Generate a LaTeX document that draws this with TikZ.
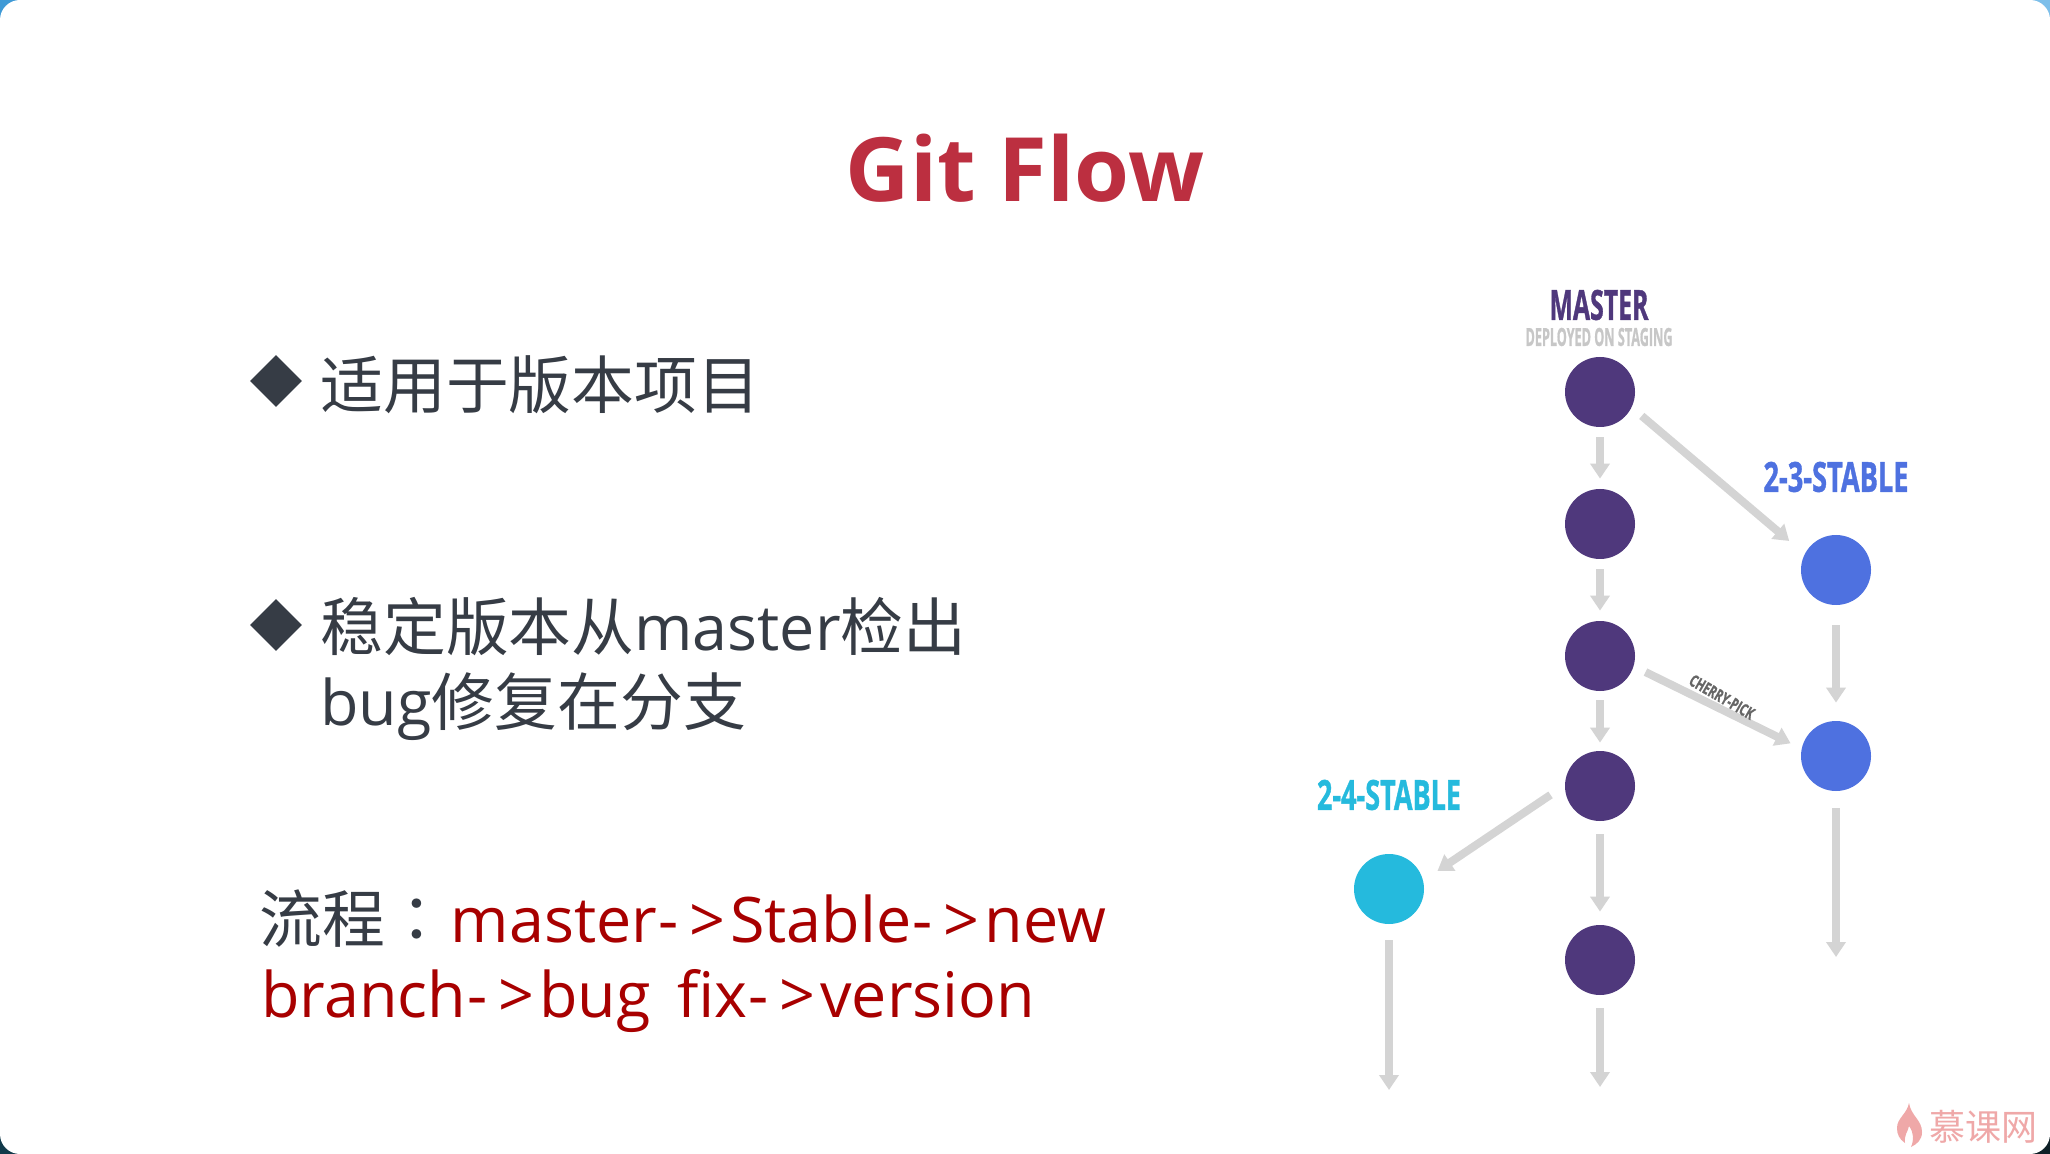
\documentclass[tikz,border=0pt]{standalone}
\usepackage{fontspec}
\usepackage{graphicx}
\setmainfont{Open Sans}
\newfontfamily\cjk{Noto Sans CJK SC}
\newfontfamily\cjktc{Noto Sans CJK TC}
\usetikzlibrary{arrows.meta,shapes.geometric}
\definecolor{masterpurple}{HTML}{4F387C}
\definecolor{stableblue}{HTML}{4E71E0}
\definecolor{stablecyan}{HTML}{25BADD}
\definecolor{flowgrey}{HTML}{D4D4D4}
\definecolor{slate}{HTML}{363C45}
\definecolor{titlered}{HTML}{BC2F40}
\definecolor{flowred}{HTML}{A80000}
\definecolor{markpink}{HTML}{EFA8A8}
\definecolor{cornerblue}{HTML}{3F9AD6}
\definecolor{cornerlight}{HTML}{7DBFEA}
\definecolor{cornerteal}{HTML}{123A4A}
\definecolor{cornerdark}{HTML}{0F2027}
% text stretched to an exact width and height, given in pt
\newcommand{\sizedlabel}[3]{\resizebox{#1pt}{#2pt}{\bfseries\addfontfeature{FakeBold=1.2}#3}}
% the arrow between process steps, with its looser spacing
\newcommand{\steparrow}{\kern0.5pt-\kern5.5pt>\kern2.5pt}
\tikzset{
  x=0.5pt,y=-0.5pt,
  commit/.style={circle,minimum size=35pt,inner sep=0pt,fill=#1},
  flow/.style={draw=flowgrey,line width=4pt,-{Triangle[length=7.5pt,width=9.5pt]}},
  bullet/.style={diamond,aspect=1,minimum size=26pt,inner sep=0pt,fill=slate},
  body/.style={anchor=base west,inner sep=0pt,text=slate,font=\fontsize{31.4pt}{38pt}\selectfont},
  tag/.style={inner sep=0pt}
}
\begin{document}
\begin{tikzpicture}
\useasboundingbox (0,0) rectangle (2050,1154);
% window backdrop and rounded slide
\fill[cornerblue] (0,0) rectangle (1025,577);
\fill[cornerlight] (1025,0) rectangle (2050,577);
\fill[cornerteal] (0,577) rectangle (1025,1154);
\fill[cornerdark] (1025,577) rectangle (2050,1154);
\fill[white,rounded corners=10pt] (0,0) rectangle (2050,1154);

% heading and bullet points
\node[anchor=base,inner sep=0pt,text=titlered,font=\fontsize{44.4pt}{54pt}\selectfont\bfseries] (title) at (1025,202) {Git Flow};
\node[bullet] (b1) at (276,381) {};
\node[bullet] (b2) at (276,625) {};
\node[body] (t1) at (320,409) {\cjk 适用于版本项目};
\node[body] (t2) at (320,650) {\cjk 稳定版本从{\rmfamily master}检出};
\node[body] (t3) at (320,725) {bug{\cjk 修复在分支}};
\node[body] (t4) at (259,942) {{\cjk 流程}{\cjktc ：}\kern1.5pt\textcolor{flowred}{master\steparrow Stable\steparrow new}};
\node[body,text=flowred] (t5) at (261,1017) {branch\steparrow bug\kern5pt\ fix\steparrow version};

% commits
\node[commit=masterpurple] (m1) at (1600,392) {};
\node[commit=masterpurple] (m2) at (1600,524) {};
\node[commit=masterpurple] (m3) at (1600,656) {};
\node[commit=masterpurple] (m4) at (1600,786) {};
\node[commit=masterpurple] (m5) at (1600,960) {};
\node[commit=stableblue] (s1) at (1836,570) {};
\node[commit=stableblue] (s2) at (1836,756) {};
\node[commit=stablecyan] (c1) at (1389,889) {};

% open ends of the branches
\coordinate (mEnd) at (1600,1087);
\coordinate (sEnd) at (1836,957);
\coordinate (cEnd) at (1389,1090);

% history arrows
\draw[flow,shorten <=5pt,shorten >=5pt] (m1) -- (m2);
\draw[flow,shorten <=5pt,shorten >=5pt] (m2) -- (m3);
\draw[flow,shorten <=4.5pt,shorten >=4pt] (m3) -- (m4);
\draw[flow,shorten <=6.5pt,shorten >=6.5pt] (m4) -- (m5);
\draw[flow,shorten <=6.5pt] (m5) -- (mEnd);
\draw[flow,shorten <=10pt,shorten >=9pt] (s1) -- (s2);
\draw[flow,shorten <=8.5pt] (s2) -- (sEnd);
\draw[flow,shorten <=8pt] (c1) -- (cEnd);

% branch and cherry-pick arrows
\draw[flow,shorten <=6.5pt,shorten >=10pt] (m1.-26.8) -- (s1.153);
\draw[flow,shorten <=6.5pt,shorten >=6pt] (m3.-17) -- (s2.168.7);
\draw[flow,shorten <=8.5pt,shorten >=8.5pt] (m4.179.4) -- (c1.14.2);

% branch labels
\node[tag,text=masterpurple] (lm) at (1599,305) {\sizedlabel{49.5}{15}{MASTER}};
\node[tag,text=black!22] (ld) at (1599,337) {\sizedlabel{73.5}{9}{DEPLOYED ON STAGING}};
\node[tag,text=stableblue] (ls) at (1836,477) {\sizedlabel{72.5}{15}{2-3-STABLE}};
\node[tag,text=stablecyan] (lc) at (1389,795) {\sizedlabel{72}{15}{2-4-STABLE}};
\node[tag,text=black!60,rotate=-30] (lp) at (1722,697) {\sizedlabel{36}{6}{CHERRY-PICK}};

% logo in the lower corner
\fill[markpink] (1909,1103) .. controls (1911,1116) and (1922,1120) .. (1922,1132)
  .. controls (1922,1140) and (1917,1144) .. (1911,1147)
  .. controls (1914,1140) and (1914,1133) .. (1909,1126)
  .. controls (1908,1132) and (1904,1134) .. (1905,1143)
  .. controls (1899,1139) and (1897,1134) .. (1897,1128)
  .. controls (1897,1118) and (1907,1114) .. (1909,1103) -- cycle;
\node[inner sep=0pt,text=markpink,font=\cjk\fontsize{18pt}{18pt}\selectfont] (mark) at (1983,1127) {慕课网};
\end{tikzpicture}
\end{document}
